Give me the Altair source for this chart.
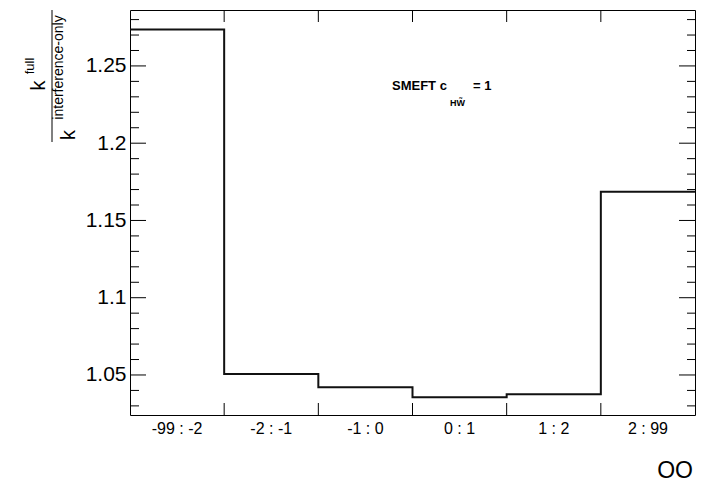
import altair as alt
import pandas as pd

# Bin labels and ratio values (full / interference-only) per bin
bin_labels = ["-99 : -2", "-2 : -1", "-1 : 0", "0 : 1", "1 : 2", "2 : 99"]
ratio_values = [1.2735, 1.0506, 1.0420, 1.0356, 1.0375, 1.1685]

# Axis tick positions
y_major = [1.05, 1.10, 1.15, 1.20, 1.25]
y_minor = [1.03, 1.04, 1.06, 1.07, 1.08, 1.09, 1.11, 1.12, 1.13, 1.14,
           1.16, 1.17, 1.18, 1.19, 1.21, 1.22, 1.23, 1.24, 1.26, 1.27, 1.28]
x_edges = [1, 2, 3, 4, 5]

W, H = 565, 405
FONT = "Liberation Sans"

x_scale = alt.Scale(domain=[0, 6], nice=False, zero=False)
y_scale = alt.Scale(domain=[1.0241, 1.2862], nice=False, zero=False)

# step outline: one point per bin edge, last value repeated to close the final bin
step_df = pd.DataFrame({
    "edge": list(range(len(ratio_values) + 1)),
    "ratio": ratio_values + [ratio_values[-1]],
})
label_df = pd.DataFrame({
    "center": [i + 0.5 for i in range(len(bin_labels))],
    "label": bin_labels,
})
major_df = pd.DataFrame({"v": y_major})
minor_df = pd.DataFrame({"v": y_minor})
edge_df = pd.DataFrame({"e": x_edges})

hist = alt.Chart(step_df).mark_line(
    interpolate="step-after", color="#111111", strokeWidth=2
).encode(
    x=alt.X("edge:Q", scale=x_scale, axis=None),
    y=alt.Y("ratio:Q", scale=y_scale, title=None,
            axis=alt.Axis(values=y_major, ticks=False, domain=False, grid=False,
                          labelExpr="format(datum.value, '.2~f')",
                          labelFont=FONT, labelFontSize=21, labelColor="black",
                          labelPadding=4)),
)

# inward ticks on the left and right frame edges
left_major = alt.Chart(major_df).mark_rule(color="black", strokeWidth=1).encode(
    y=alt.Y("v:Q", scale=y_scale), x=alt.value(0), x2=alt.value(16))
left_minor = alt.Chart(minor_df).mark_rule(color="black", strokeWidth=1).encode(
    y=alt.Y("v:Q", scale=y_scale), x=alt.value(0), x2=alt.value(9))
right_major = alt.Chart(major_df).mark_rule(color="black", strokeWidth=1).encode(
    y=alt.Y("v:Q", scale=y_scale), x=alt.value(W), x2=alt.value(W - 16))
right_minor = alt.Chart(minor_df).mark_rule(color="black", strokeWidth=1).encode(
    y=alt.Y("v:Q", scale=y_scale), x=alt.value(W), x2=alt.value(W - 8))

# inward ticks at bin edges on the top and bottom frame edges
bottom_ticks = alt.Chart(edge_df).mark_rule(color="black", strokeWidth=1).encode(
    x=alt.X("e:Q", scale=x_scale), y=alt.value(H), y2=alt.value(H - 12))
top_ticks = alt.Chart(edge_df).mark_rule(color="black", strokeWidth=1).encode(
    x=alt.X("e:Q", scale=x_scale), y=alt.value(0), y2=alt.value(12))

bin_text = alt.Chart(label_df).mark_text(
    font=FONT, fontSize=16, color="black", baseline="middle", align="center"
).encode(
    x=alt.X("center:Q", scale=x_scale), y=alt.value(H + 14), text="label:N")

x_title = alt.Chart(pd.DataFrame({"t": ["OO"]})).mark_text(
    font=FONT, fontSize=23, color="black", align="right", baseline="middle"
).encode(x=alt.value(563), y=alt.value(461), text="t:N")

# annotation: SMEFT c_{HW~} = 1
def note(txt, x, y, size):
    return alt.Chart(pd.DataFrame({"t": [txt]})).mark_text(
        font=FONT, fontSize=size, fontWeight="bold", color="black",
        align="left", baseline="alphabetic"
    ).encode(x=alt.value(x), y=alt.value(y), text="t:N")

annot = note("SMEFT c", 262, 80, 13) + note("HW\u0303", 320, 96, 9) + note("= 1", 343, 80, 13)

# rotated fraction title: k^full / k_interference-only
def vtext(txt, x, y, size, baseline="alphabetic"):
    return alt.Chart(pd.DataFrame({"t": [txt]})).mark_text(
        font=FONT, fontSize=size, color="black", angle=270,
        align="center", baseline=baseline
    ).encode(x=alt.value(x), y=alt.value(y), text="t:N")

frac_bar = alt.Chart(pd.DataFrame({"a": [0]})).mark_rule(
    color="black", strokeWidth=1
).encode(x=alt.value(52 - 130), y=alt.value(10 - 10), y2=alt.value(142 - 10))

y_title = (
    vtext("k", 45 - 130, 85.5 - 10, 20)
    + vtext("full", 34 - 130, 66 - 10, 13)
    + vtext("k", 75 - 130, 135 - 10, 20)
    + vtext("interference-only", 63 - 130, 67.5 - 10, 14)
    + frac_bar
)

chart = alt.layer(
    hist, left_major, left_minor, right_major, right_minor,
    bottom_ticks, top_ticks, bin_text, x_title, annot, y_title
).properties(
    width=W, height=H,
    autosize=alt.AutoSizeParams(type="none"),
    padding={"left": 130, "top": 10, "right": 10, "bottom": 69},
    background="white",
).configure_view(stroke="black", strokeWidth=1)

chart.save("out.html", embed_options={"renderer": "svg", "actions": False})
